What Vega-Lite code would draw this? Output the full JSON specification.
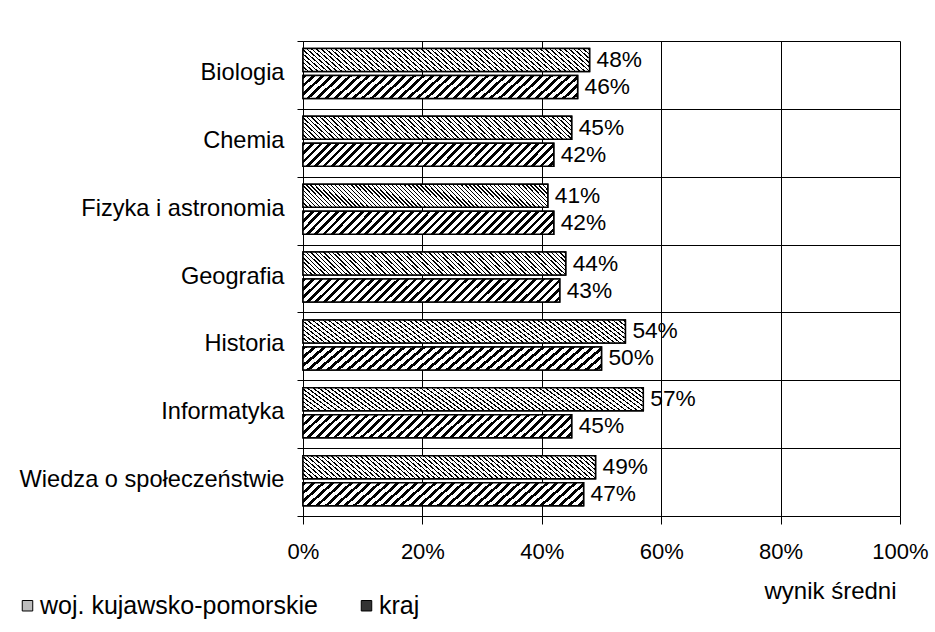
{
"$schema":"https://vega.github.io/schema/vega-lite/v6.json",
"width":597,"height":475,
"autosize":{"type":"none"},
"padding":{"left":303,"top":41,"right":35,"bottom":116},
"background":"white",
"config":{"view":{"stroke":null},"font":"Liberation Sans","axis":{"labelColor":"#000","titleColor":"#000","labelFont":"Liberation Sans","titleFont":"Liberation Sans"},"legend":{"labelFont":"Liberation Sans"}},
"data":{"values":[
{"subject":"Biologia","series":"woj. kujawsko-pomorskie","value":0.48},
{"subject":"Biologia","series":"kraj","value":0.46},
{"subject":"Chemia","series":"woj. kujawsko-pomorskie","value":0.45},
{"subject":"Chemia","series":"kraj","value":0.42},
{"subject":"Fizyka i astronomia","series":"woj. kujawsko-pomorskie","value":0.41},
{"subject":"Fizyka i astronomia","series":"kraj","value":0.42},
{"subject":"Geografia","series":"woj. kujawsko-pomorskie","value":0.44},
{"subject":"Geografia","series":"kraj","value":0.43},
{"subject":"Historia","series":"woj. kujawsko-pomorskie","value":0.54},
{"subject":"Historia","series":"kraj","value":0.50},
{"subject":"Informatyka","series":"woj. kujawsko-pomorskie","value":0.57},
{"subject":"Informatyka","series":"kraj","value":0.45},
{"subject":"Wiedza o społeczeństwie","series":"woj. kujawsko-pomorskie","value":0.49},
{"subject":"Wiedza o społeczeństwie","series":"kraj","value":0.47}
]},
"encoding":{
"y":{"field":"subject","type":"nominal","sort":null,"scale":{"paddingInner":0,"paddingOuter":0},
 "axis":{"title":null,"tickBand":"extent","grid":true,"gridColor":"#000","gridOpacity":1,"gridWidth":1,"domainColor":"#000","domainWidth":1,"tickColor":"#000","tickSize":6,"tickWidth":1,"labelPadding":13,"labelFontSize":23.6,"labelOffset":-2.5,"labelLimit":400}},
"yOffset":{"field":"series","type":"nominal","scale":{"domain":["woj. kujawsko-pomorskie","kraj"],"paddingInner":0.148,"paddingOuter":0.331,"align":0.42}},
"x":{"field":"value","type":"quantitative","scale":{"domain":[0,1]},
 "axis":{"values":[0,0.2,0.4,0.6,0.8,1],"format":".0%","grid":true,"gridColor":"#000","gridOpacity":1,"gridWidth":1,"domainColor":"#000","domainWidth":1,"tickColor":"#000","tickSize":8,"tickWidth":1,"labelFontSize":22,"labelPadding":17,"labelFlush":false,"labelOverlap":false,
 "title":"wynik średni","titleFontSize":24,"titleFontWeight":"normal","titleX":527,"titleY":82,"titleAlign":"center","titleBaseline":"alphabetic"}}
},
"layer":[
{"mark":{"type":"bar","stroke":"#000","strokeWidth":1.5},
 "encoding":{"fill":{"field":"series","type":"nominal","scale":{"domain":["woj. kujawsko-pomorskie","kraj"],"range":["#bdbdbd","#333333"]},
  "legend":{"orient":"none","legendX":-288,"legendY":552,"direction":"horizontal","title":null,"symbolType":"square","symbolSize":110,"symbolStrokeColor":"#000","symbolStrokeWidth":1,"symbolOpacity":1,"labelFontSize":25,"labelColor":"#000","labelOffset":0,"columnPadding":36,"padding":0,"labelLimit":400}}}},
{"transform":[{"filter":"datum.series === 'woj. kujawsko-pomorskie'"}],
 "mark":{"type":"bar","stroke":"#000","strokeWidth":1.5,"fill":{"gradient":"linear","x1":0,"y1":1,"x2":1.1,"y2":0.9,"stops":[
{"offset":0,"color":"#000"},{"offset":0.005,"color":"#000"},{"offset":0.005,"color":"#fff"},{"offset":0.015,"color":"#fff"},
{"offset":0.015,"color":"#000"},{"offset":0.02,"color":"#000"},{"offset":0.02,"color":"#fff"},{"offset":0.03,"color":"#fff"},
{"offset":0.03,"color":"#000"},{"offset":0.035,"color":"#000"},{"offset":0.035,"color":"#fff"},{"offset":0.045,"color":"#fff"},
{"offset":0.045,"color":"#000"},{"offset":0.05,"color":"#000"},{"offset":0.05,"color":"#fff"},{"offset":0.06,"color":"#fff"},
{"offset":0.06,"color":"#000"},{"offset":0.065,"color":"#000"},{"offset":0.065,"color":"#fff"},{"offset":0.075,"color":"#fff"},
{"offset":0.075,"color":"#000"},{"offset":0.08,"color":"#000"},{"offset":0.08,"color":"#fff"},{"offset":0.09,"color":"#fff"},
{"offset":0.09,"color":"#000"},{"offset":0.095,"color":"#000"},{"offset":0.095,"color":"#fff"},{"offset":0.105,"color":"#fff"},
{"offset":0.105,"color":"#000"},{"offset":0.11,"color":"#000"},{"offset":0.11,"color":"#fff"},{"offset":0.12,"color":"#fff"},
{"offset":0.12,"color":"#000"},{"offset":0.125,"color":"#000"},{"offset":0.125,"color":"#fff"},{"offset":0.135,"color":"#fff"},
{"offset":0.135,"color":"#000"},{"offset":0.14,"color":"#000"},{"offset":0.14,"color":"#fff"},{"offset":0.15,"color":"#fff"},
{"offset":0.15,"color":"#000"},{"offset":0.155,"color":"#000"},{"offset":0.155,"color":"#fff"},{"offset":0.165,"color":"#fff"},
{"offset":0.165,"color":"#000"},{"offset":0.17,"color":"#000"},{"offset":0.17,"color":"#fff"},{"offset":0.18,"color":"#fff"},
{"offset":0.18,"color":"#000"},{"offset":0.185,"color":"#000"},{"offset":0.185,"color":"#fff"},{"offset":0.195,"color":"#fff"},
{"offset":0.195,"color":"#000"},{"offset":0.2,"color":"#000"},{"offset":0.2,"color":"#fff"},{"offset":0.21,"color":"#fff"},
{"offset":0.21,"color":"#000"},{"offset":0.215,"color":"#000"},{"offset":0.215,"color":"#fff"},{"offset":0.225,"color":"#fff"},
{"offset":0.225,"color":"#000"},{"offset":0.23,"color":"#000"},{"offset":0.23,"color":"#fff"},{"offset":0.24,"color":"#fff"},
{"offset":0.24,"color":"#000"},{"offset":0.245,"color":"#000"},{"offset":0.245,"color":"#fff"},{"offset":0.255,"color":"#fff"},
{"offset":0.255,"color":"#000"},{"offset":0.26,"color":"#000"},{"offset":0.26,"color":"#fff"},{"offset":0.27,"color":"#fff"},
{"offset":0.27,"color":"#000"},{"offset":0.275,"color":"#000"},{"offset":0.275,"color":"#fff"},{"offset":0.285,"color":"#fff"},
{"offset":0.285,"color":"#000"},{"offset":0.29,"color":"#000"},{"offset":0.29,"color":"#fff"},{"offset":0.3,"color":"#fff"},
{"offset":0.3,"color":"#000"},{"offset":0.305,"color":"#000"},{"offset":0.305,"color":"#fff"},{"offset":0.315,"color":"#fff"},
{"offset":0.315,"color":"#000"},{"offset":0.32,"color":"#000"},{"offset":0.32,"color":"#fff"},{"offset":0.33,"color":"#fff"},
{"offset":0.33,"color":"#000"},{"offset":0.335,"color":"#000"},{"offset":0.335,"color":"#fff"},{"offset":0.345,"color":"#fff"},
{"offset":0.345,"color":"#000"},{"offset":0.35,"color":"#000"},{"offset":0.35,"color":"#fff"},{"offset":0.36,"color":"#fff"},
{"offset":0.36,"color":"#000"},{"offset":0.365,"color":"#000"},{"offset":0.365,"color":"#fff"},{"offset":0.375,"color":"#fff"},
{"offset":0.375,"color":"#000"},{"offset":0.38,"color":"#000"},{"offset":0.38,"color":"#fff"},{"offset":0.39,"color":"#fff"},
{"offset":0.39,"color":"#000"},{"offset":0.395,"color":"#000"},{"offset":0.395,"color":"#fff"},{"offset":0.405,"color":"#fff"},
{"offset":0.405,"color":"#000"},{"offset":0.41,"color":"#000"},{"offset":0.41,"color":"#fff"},{"offset":0.42,"color":"#fff"},
{"offset":0.42,"color":"#000"},{"offset":0.425,"color":"#000"},{"offset":0.425,"color":"#fff"},{"offset":0.435,"color":"#fff"},
{"offset":0.435,"color":"#000"},{"offset":0.44,"color":"#000"},{"offset":0.44,"color":"#fff"},{"offset":0.45,"color":"#fff"},
{"offset":0.45,"color":"#000"},{"offset":0.455,"color":"#000"},{"offset":0.455,"color":"#fff"},{"offset":0.465,"color":"#fff"},
{"offset":0.465,"color":"#000"},{"offset":0.47,"color":"#000"},{"offset":0.47,"color":"#fff"},{"offset":0.48,"color":"#fff"},
{"offset":0.48,"color":"#000"},{"offset":0.485,"color":"#000"},{"offset":0.485,"color":"#fff"},{"offset":0.495,"color":"#fff"},
{"offset":0.495,"color":"#000"},{"offset":0.5,"color":"#000"},{"offset":0.5,"color":"#fff"},{"offset":0.51,"color":"#fff"},
{"offset":0.51,"color":"#000"},{"offset":0.515,"color":"#000"},{"offset":0.515,"color":"#fff"},{"offset":0.525,"color":"#fff"},
{"offset":0.525,"color":"#000"},{"offset":0.53,"color":"#000"},{"offset":0.53,"color":"#fff"},{"offset":0.54,"color":"#fff"},
{"offset":0.54,"color":"#000"},{"offset":0.545,"color":"#000"},{"offset":0.545,"color":"#fff"},{"offset":0.555,"color":"#fff"},
{"offset":0.555,"color":"#000"},{"offset":0.56,"color":"#000"},{"offset":0.56,"color":"#fff"},{"offset":0.57,"color":"#fff"},
{"offset":0.57,"color":"#000"},{"offset":0.575,"color":"#000"},{"offset":0.575,"color":"#fff"},{"offset":0.585,"color":"#fff"},
{"offset":0.585,"color":"#000"},{"offset":0.59,"color":"#000"},{"offset":0.59,"color":"#fff"},{"offset":0.6,"color":"#fff"},
{"offset":0.6,"color":"#000"},{"offset":0.605,"color":"#000"},{"offset":0.605,"color":"#fff"},{"offset":0.615,"color":"#fff"},
{"offset":0.615,"color":"#000"},{"offset":0.62,"color":"#000"},{"offset":0.62,"color":"#fff"},{"offset":0.63,"color":"#fff"},
{"offset":0.63,"color":"#000"},{"offset":0.635,"color":"#000"},{"offset":0.635,"color":"#fff"},{"offset":0.645,"color":"#fff"},
{"offset":0.645,"color":"#000"},{"offset":0.65,"color":"#000"},{"offset":0.65,"color":"#fff"},{"offset":0.66,"color":"#fff"},
{"offset":0.66,"color":"#000"},{"offset":0.665,"color":"#000"},{"offset":0.665,"color":"#fff"},{"offset":0.675,"color":"#fff"},
{"offset":0.675,"color":"#000"},{"offset":0.68,"color":"#000"},{"offset":0.68,"color":"#fff"},{"offset":0.69,"color":"#fff"},
{"offset":0.69,"color":"#000"},{"offset":0.695,"color":"#000"},{"offset":0.695,"color":"#fff"},{"offset":0.705,"color":"#fff"},
{"offset":0.705,"color":"#000"},{"offset":0.71,"color":"#000"},{"offset":0.71,"color":"#fff"},{"offset":0.72,"color":"#fff"},
{"offset":0.72,"color":"#000"},{"offset":0.725,"color":"#000"},{"offset":0.725,"color":"#fff"},{"offset":0.735,"color":"#fff"},
{"offset":0.735,"color":"#000"},{"offset":0.74,"color":"#000"},{"offset":0.74,"color":"#fff"},{"offset":0.75,"color":"#fff"},
{"offset":0.75,"color":"#000"},{"offset":0.755,"color":"#000"},{"offset":0.755,"color":"#fff"},{"offset":0.765,"color":"#fff"},
{"offset":0.765,"color":"#000"},{"offset":0.77,"color":"#000"},{"offset":0.77,"color":"#fff"},{"offset":0.78,"color":"#fff"},
{"offset":0.78,"color":"#000"},{"offset":0.785,"color":"#000"},{"offset":0.785,"color":"#fff"},{"offset":0.795,"color":"#fff"},
{"offset":0.795,"color":"#000"},{"offset":0.8,"color":"#000"},{"offset":0.8,"color":"#fff"},{"offset":0.81,"color":"#fff"},
{"offset":0.81,"color":"#000"},{"offset":0.815,"color":"#000"},{"offset":0.815,"color":"#fff"},{"offset":0.825,"color":"#fff"},
{"offset":0.825,"color":"#000"},{"offset":0.83,"color":"#000"},{"offset":0.83,"color":"#fff"},{"offset":0.84,"color":"#fff"},
{"offset":0.84,"color":"#000"},{"offset":0.845,"color":"#000"},{"offset":0.845,"color":"#fff"},{"offset":0.855,"color":"#fff"},
{"offset":0.855,"color":"#000"},{"offset":0.86,"color":"#000"},{"offset":0.86,"color":"#fff"},{"offset":0.87,"color":"#fff"},
{"offset":0.87,"color":"#000"},{"offset":0.875,"color":"#000"},{"offset":0.875,"color":"#fff"},{"offset":0.885,"color":"#fff"},
{"offset":0.885,"color":"#000"},{"offset":0.89,"color":"#000"},{"offset":0.89,"color":"#fff"},{"offset":0.9,"color":"#fff"},
{"offset":0.9,"color":"#000"},{"offset":0.905,"color":"#000"},{"offset":0.905,"color":"#fff"},{"offset":0.915,"color":"#fff"},
{"offset":0.915,"color":"#000"},{"offset":0.92,"color":"#000"},{"offset":0.92,"color":"#fff"},{"offset":0.93,"color":"#fff"},
{"offset":0.93,"color":"#000"},{"offset":0.935,"color":"#000"},{"offset":0.935,"color":"#fff"},{"offset":0.945,"color":"#fff"},
{"offset":0.945,"color":"#000"},{"offset":0.95,"color":"#000"},{"offset":0.95,"color":"#fff"},{"offset":0.96,"color":"#fff"},
{"offset":0.96,"color":"#000"},{"offset":0.965,"color":"#000"},{"offset":0.965,"color":"#fff"},{"offset":0.975,"color":"#fff"},
{"offset":0.975,"color":"#000"},{"offset":0.98,"color":"#000"},{"offset":0.98,"color":"#fff"},{"offset":0.99,"color":"#fff"},
{"offset":0.99,"color":"#000"},{"offset":0.995,"color":"#000"},{"offset":0.995,"color":"#fff"},{"offset":1,"color":"#fff"}
]}}},
{"transform":[{"filter":"datum.series === 'kraj'"}],
 "mark":{"type":"bar","stroke":"#000","strokeWidth":1.5,"fill":{"gradient":"linear","x1":0,"y1":0,"x2":1.1,"y2":0.1,"stops":[
{"offset":0,"color":"#000"},{"offset":0.013,"color":"#000"},{"offset":0.013,"color":"#fff"},{"offset":0.03,"color":"#fff"},
{"offset":0.03,"color":"#000"},{"offset":0.043,"color":"#000"},{"offset":0.043,"color":"#fff"},{"offset":0.06,"color":"#fff"},
{"offset":0.06,"color":"#000"},{"offset":0.073,"color":"#000"},{"offset":0.073,"color":"#fff"},{"offset":0.09,"color":"#fff"},
{"offset":0.09,"color":"#000"},{"offset":0.103,"color":"#000"},{"offset":0.103,"color":"#fff"},{"offset":0.12,"color":"#fff"},
{"offset":0.12,"color":"#000"},{"offset":0.133,"color":"#000"},{"offset":0.133,"color":"#fff"},{"offset":0.15,"color":"#fff"},
{"offset":0.15,"color":"#000"},{"offset":0.163,"color":"#000"},{"offset":0.163,"color":"#fff"},{"offset":0.18,"color":"#fff"},
{"offset":0.18,"color":"#000"},{"offset":0.193,"color":"#000"},{"offset":0.193,"color":"#fff"},{"offset":0.21,"color":"#fff"},
{"offset":0.21,"color":"#000"},{"offset":0.223,"color":"#000"},{"offset":0.223,"color":"#fff"},{"offset":0.24,"color":"#fff"},
{"offset":0.24,"color":"#000"},{"offset":0.253,"color":"#000"},{"offset":0.253,"color":"#fff"},{"offset":0.27,"color":"#fff"},
{"offset":0.27,"color":"#000"},{"offset":0.283,"color":"#000"},{"offset":0.283,"color":"#fff"},{"offset":0.3,"color":"#fff"},
{"offset":0.3,"color":"#000"},{"offset":0.313,"color":"#000"},{"offset":0.313,"color":"#fff"},{"offset":0.33,"color":"#fff"},
{"offset":0.33,"color":"#000"},{"offset":0.343,"color":"#000"},{"offset":0.343,"color":"#fff"},{"offset":0.36,"color":"#fff"},
{"offset":0.36,"color":"#000"},{"offset":0.373,"color":"#000"},{"offset":0.373,"color":"#fff"},{"offset":0.39,"color":"#fff"},
{"offset":0.39,"color":"#000"},{"offset":0.403,"color":"#000"},{"offset":0.403,"color":"#fff"},{"offset":0.42,"color":"#fff"},
{"offset":0.42,"color":"#000"},{"offset":0.433,"color":"#000"},{"offset":0.433,"color":"#fff"},{"offset":0.45,"color":"#fff"},
{"offset":0.45,"color":"#000"},{"offset":0.463,"color":"#000"},{"offset":0.463,"color":"#fff"},{"offset":0.48,"color":"#fff"},
{"offset":0.48,"color":"#000"},{"offset":0.493,"color":"#000"},{"offset":0.493,"color":"#fff"},{"offset":0.51,"color":"#fff"},
{"offset":0.51,"color":"#000"},{"offset":0.523,"color":"#000"},{"offset":0.523,"color":"#fff"},{"offset":0.54,"color":"#fff"},
{"offset":0.54,"color":"#000"},{"offset":0.553,"color":"#000"},{"offset":0.553,"color":"#fff"},{"offset":0.57,"color":"#fff"},
{"offset":0.57,"color":"#000"},{"offset":0.583,"color":"#000"},{"offset":0.583,"color":"#fff"},{"offset":0.6,"color":"#fff"},
{"offset":0.6,"color":"#000"},{"offset":0.613,"color":"#000"},{"offset":0.613,"color":"#fff"},{"offset":0.63,"color":"#fff"},
{"offset":0.63,"color":"#000"},{"offset":0.643,"color":"#000"},{"offset":0.643,"color":"#fff"},{"offset":0.66,"color":"#fff"},
{"offset":0.66,"color":"#000"},{"offset":0.673,"color":"#000"},{"offset":0.673,"color":"#fff"},{"offset":0.69,"color":"#fff"},
{"offset":0.69,"color":"#000"},{"offset":0.703,"color":"#000"},{"offset":0.703,"color":"#fff"},{"offset":0.72,"color":"#fff"},
{"offset":0.72,"color":"#000"},{"offset":0.733,"color":"#000"},{"offset":0.733,"color":"#fff"},{"offset":0.75,"color":"#fff"},
{"offset":0.75,"color":"#000"},{"offset":0.763,"color":"#000"},{"offset":0.763,"color":"#fff"},{"offset":0.78,"color":"#fff"},
{"offset":0.78,"color":"#000"},{"offset":0.793,"color":"#000"},{"offset":0.793,"color":"#fff"},{"offset":0.81,"color":"#fff"},
{"offset":0.81,"color":"#000"},{"offset":0.823,"color":"#000"},{"offset":0.823,"color":"#fff"},{"offset":0.84,"color":"#fff"},
{"offset":0.84,"color":"#000"},{"offset":0.853,"color":"#000"},{"offset":0.853,"color":"#fff"},{"offset":0.87,"color":"#fff"},
{"offset":0.87,"color":"#000"},{"offset":0.883,"color":"#000"},{"offset":0.883,"color":"#fff"},{"offset":0.9,"color":"#fff"},
{"offset":0.9,"color":"#000"},{"offset":0.913,"color":"#000"},{"offset":0.913,"color":"#fff"},{"offset":0.93,"color":"#fff"},
{"offset":0.93,"color":"#000"},{"offset":0.943,"color":"#000"},{"offset":0.943,"color":"#fff"},{"offset":0.96,"color":"#fff"},
{"offset":0.96,"color":"#000"},{"offset":0.973,"color":"#000"},{"offset":0.973,"color":"#fff"},{"offset":0.99,"color":"#fff"},
{"offset":0.99,"color":"#000"},{"offset":1,"color":"#000"}
]}}},
{"mark":{"type":"text","align":"left","baseline":"middle","dx":7,"fontSize":22.7,"color":"#000","font":"Liberation Sans"},
 "encoding":{"text":{"field":"value","type":"quantitative","format":".0%"}}}
]
}
